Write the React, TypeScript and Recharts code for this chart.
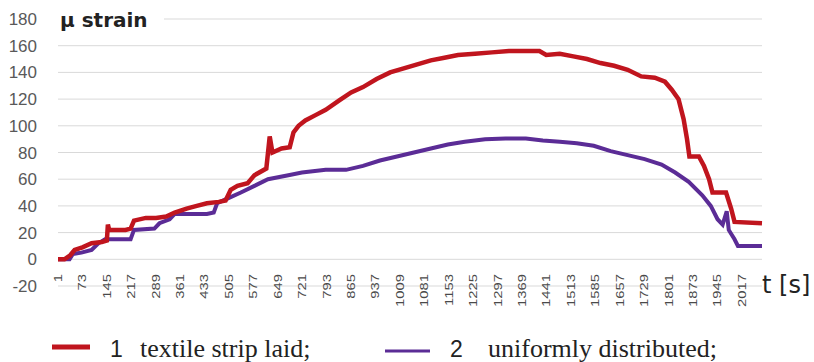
import { CartesianGrid, Line, LineChart, XAxis, YAxis } from "recharts";

// time ticks shown on the category axis
const timeTicks = [
  1, 73, 145, 217, 289, 361, 433, 505, 577, 649, 721, 793, 865, 937, 1009, 1081, 1153, 1225,
  1297, 1369, 1441, 1513, 1585, 1657, 1729, 1801, 1873, 1945, 2017,
];
const strainTicks = [-20, 0, 20, 40, 60, 80, 100, 120, 140, 160, 180];

// series 1: textile strip laid
const stripT = [
  1, 20, 37, 50, 73, 100, 130, 145, 148, 152, 200, 215, 225, 260, 290, 320, 345, 380, 410, 440,
  475, 495, 510, 530, 560, 580, 615, 625, 633, 660, 684, 695, 710, 730, 760, 790, 830, 865, 900,
  940, 980, 1020, 1060, 1100, 1140, 1180, 1230, 1280, 1330, 1380, 1420, 1440, 1480, 1520, 1560,
  1600, 1640, 1680, 1720, 1760, 1790, 1810, 1830, 1845, 1855, 1862, 1890, 1905, 1920, 1930, 1970,
  1985, 1995, 2076,
];
const stripV = [
  0, 0, 3, 7, 9, 12, 13, 14, 26, 22, 22, 23, 29, 31, 31, 32, 35, 38, 40, 42,
  43, 44, 52, 55, 57, 63, 68, 92, 80, 83, 84, 95, 100, 104, 108, 112, 119, 125, 129,
  135, 140, 143, 146, 149, 151, 153, 154, 155, 156, 156, 156, 153, 154, 152, 150,
  147, 145, 142, 137, 136, 133, 127, 120, 105, 90, 77, 77, 70, 60, 50, 50,
  38, 28, 27,
];

// series 2: uniformly distributed
const uniformT = [
  1, 35, 45, 70, 100, 120, 140, 215, 225, 285, 300, 330, 345, 440, 460, 470, 505, 540, 580, 620,
  680, 720, 790, 850, 900, 950, 1000, 1050, 1100, 1150, 1200, 1260, 1320, 1380, 1430, 1480, 1530,
  1580, 1630, 1680, 1730, 1780, 1820, 1860, 1900, 1925, 1945, 1960, 1972, 1978, 1995, 2005, 2076,
];
const uniformV = [
  0, 0, 4, 5, 7, 12, 15, 15, 22, 23, 27, 30, 34, 34, 35, 42, 46, 50, 55, 60,
  63, 65, 67, 67, 70, 74, 77, 80, 83, 86, 88, 90, 90.5, 90.5, 89, 88, 87,
  85, 81, 78, 75, 71, 65, 58, 48, 40, 30, 26, 36, 22, 15, 10, 10,
];

const stripData = stripT.map((t, i) => ({ t, v: stripV[i] }));
const uniformData = uniformT.map((t, i) => ({ t, v: uniformV[i] }));

const RED = "#C0151E";
const PURPLE = "#5B2C96";

function TimeTick(props: any) {
  const { x, y, payload } = props;
  const ay = y - 20;
  return (
    <text
      x={0}
      y={0}
      dy="0.35em"
      transform={`translate(${x}, ${ay}) rotate(-90) scale(1.35, 1)`}
      textAnchor="end"
      fontSize={11}
      fill="#4a4a4a"
      fontFamily="'Liberation Sans', Arial, sans-serif"
    >
      {payload.value}
    </text>
  );
}

export default function App() {
  return (
    <div style={{ position: "absolute", left: 0, top: 0, width: 814, height: 362, background: "#fff" }}>
      <LineChart width={814} height={362} margin={{ top: 19, right: 52, left: 0, bottom: 0 }}>
        <CartesianGrid stroke="#d9d9d9" vertical={false} />
        <XAxis
          type="number"
          dataKey="t"
          domain={[1, 2076]}
          ticks={timeTicks}
          interval={0}
          height={76}
          axisLine={false}
          tickLine={false}
          tick={<TimeTick />}
          allowDuplicatedCategory={false}
        />
        <YAxis
          type="number"
          domain={[-20, 180]}
          ticks={strainTicks}
          width={58}
          axisLine={false}
          tickLine={false}
          tickMargin={15}
          tick={{ fontSize: 17, fill: "#595959", fontFamily: "'Liberation Sans', Arial, sans-serif" }}
        />
        <Line
          data={uniformData}
          dataKey="v"
          type="linear"
          stroke={PURPLE}
          strokeWidth={4}
          dot={false}
          isAnimationActive={false}
        />
        <Line
          data={stripData}
          dataKey="v"
          type="linear"
          stroke={RED}
          strokeWidth={4.5}
          dot={false}
          isAnimationActive={false}
        />
      </LineChart>
      <svg
        width={814}
        height={362}
        style={{ position: "absolute", left: 0, top: 0, pointerEvents: "none" }}
      >
        <rect x={58} y={10} width={106} height={20} fill="#fff" />
        <text x={60} y={27} fontSize={20} fontWeight="bold" fill="#222" fontFamily="'DejaVu Sans', sans-serif">
          μ strain
        </text>
        <text x={762} y={293} fontSize={24} fill="#222" fontFamily="'DejaVu Sans', sans-serif">
          t [s]
        </text>
        <line x1={52} y1={347} x2={90} y2={347} stroke={RED} strokeWidth={5} />
        <text x={110} y={357} fontSize={23} fill="#222" fontFamily="'Liberation Sans', Arial, sans-serif">
          1
        </text>
        <text x={140} y={357} fontSize={26} fill="#222" fontFamily="'Liberation Serif', 'Times New Roman', serif">
          textile strip laid;
        </text>
        <line x1={385} y1={351} x2={430} y2={351} stroke={PURPLE} strokeWidth={3} />
        <text x={450} y={357} fontSize={23} fill="#222" fontFamily="'Liberation Sans', Arial, sans-serif">
          2
        </text>
        <text x={488} y={357} fontSize={26} fill="#222" fontFamily="'Liberation Serif', 'Times New Roman', serif">
          uniformly distributed;
        </text>
      </svg>
    </div>
  );
}
